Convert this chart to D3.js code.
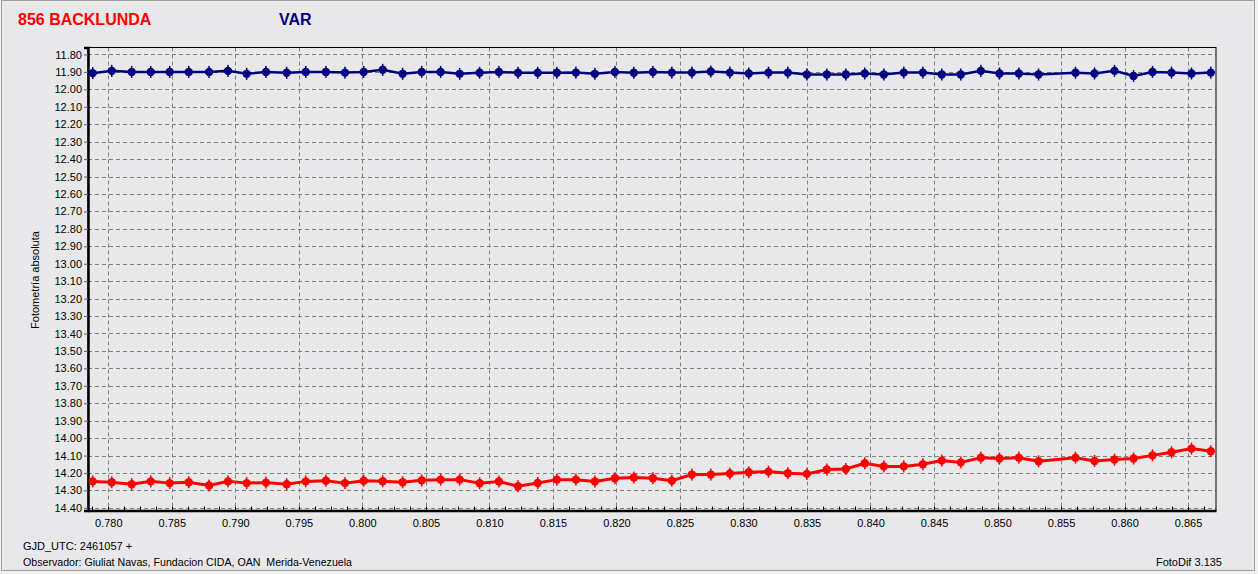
<!DOCTYPE html>
<html>
<head>
<meta charset="utf-8">
<script src="https://cdn.jsdelivr.net/npm/d3@7"></script>
<style>
  body { margin: 0; background: #f0f0f0; }
  svg text { font-family: "Liberation Sans", Arial, sans-serif; white-space: pre; }
</style>
</head>
<body>
<svg id="chart" width="1258" height="574"></svg>
<script>
// GJD_UTC fraction (2461057 +)
var gjd = [
  0.77877, 0.78027, 0.78184, 0.78334, 0.78483, 0.78633, 0.78793, 0.78942, 0.79089, 0.79241,
  0.79404, 0.79554, 0.79713, 0.79863, 0.80010, 0.80160, 0.80317, 0.80467, 0.80616, 0.80766,
  0.80923, 0.81075, 0.81225, 0.81380, 0.81531, 0.81681, 0.81830, 0.81988, 0.82137, 0.82287,
  0.82436, 0.82594, 0.82743, 0.82893, 0.83042, 0.83197, 0.83349, 0.83499, 0.83656, 0.83806,
  0.83955, 0.84105, 0.84262, 0.84412, 0.84561, 0.84711, 0.84869, 0.85016, 0.85168, 0.85323,
  0.85614, 0.85764, 0.85921, 0.86071, 0.86220, 0.86370, 0.86527, 0.86679
];

var varMag = [
  11.907, 11.894, 11.900, 11.900, 11.900, 11.900, 11.900, 11.894, 11.911, 11.900,
  11.905, 11.900, 11.900, 11.904, 11.900, 11.888, 11.911, 11.900, 11.900, 11.911,
  11.905, 11.900, 11.905, 11.905, 11.905, 11.904, 11.911, 11.900, 11.905, 11.900,
  11.904, 11.904, 11.898, 11.904, 11.909, 11.904, 11.904, 11.915, 11.915, 11.915,
  11.909, 11.915, 11.904, 11.904, 11.915, 11.915, 11.894, 11.909, 11.909, 11.915,
  11.905, 11.909, 11.894, 11.923, 11.900, 11.904, 11.909, 11.904
];

var backlundaMag = [
  14.248, 14.253, 14.264, 14.248, 14.258, 14.253, 14.272, 14.248, 14.258, 14.255,
  14.264, 14.248, 14.244, 14.258, 14.244, 14.247, 14.253, 14.242, 14.238, 14.238,
  14.259, 14.249, 14.276, 14.257, 14.238, 14.238, 14.249, 14.230, 14.226, 14.230,
  14.244, 14.209, 14.209, 14.203, 14.196, 14.192, 14.201, 14.205, 14.180, 14.177,
  14.144, 14.162, 14.162, 14.150, 14.129, 14.139, 14.112, 14.117, 14.112, 14.133,
  14.112, 14.131, 14.123, 14.117, 14.099, 14.081, 14.060, 14.075
];

var xTicks = d3.range(0, 18).map(function(i) { return +(0.780 + i * 0.005).toFixed(3); });
var xMinor = d3.range(0, 72).map(function(i) { return 0.77875 + i * 0.00125; });
var yTicks = d3.range(0, 27).map(function(i) { return +(11.80 + i * 0.10).toFixed(2); });

var plotL = 88, plotR = 1216, plotT = 47.5, plotB = 510.5;

var svg = d3.select("#chart");

svg.append("rect")
    .attr("x", 0).attr("y", 0)
    .attr("width", 1258).attr("height", 574)
    .attr("fill", "#f0f0f0");
svg.append("rect")
    .attr("x", 1.5).attr("y", 0.5)
    .attr("width", 1253).attr("height", 570)
    .attr("fill", "#e8e8ea")
    .attr("stroke", "#a0a0a0");

var x = d3.scaleLinear().domain([0.7784, 0.8672]).range([plotL, plotR]);
var y = d3.scaleLinear().domain([11.76, 14.415]).range([plotT, plotB]);

// grid
var grid = svg.append("g").attr("stroke", "#808080").attr("stroke-dasharray", "4,3").attr("stroke-width", 1);
grid.selectAll(".gx")
    .data(xTicks)
    .enter().append("line")
    .attr("x1", function(d) { return Math.round(x(d)) + 0.5; })
    .attr("x2", function(d) { return Math.round(x(d)) + 0.5; })
    .attr("y1", plotT).attr("y2", plotB);
grid.selectAll(".gy")
    .data(yTicks)
    .enter().append("line")
    .attr("y1", function(d) { return Math.round(y(d)) + 0.5; })
    .attr("y2", function(d) { return Math.round(y(d)) + 0.5; })
    .attr("x1", plotL).attr("x2", plotR);

// frame
svg.append("rect")
    .attr("x", plotL).attr("y", plotT)
    .attr("width", plotR - plotL).attr("height", plotB - plotT)
    .attr("fill", "none").attr("stroke", "#000").attr("stroke-width", 1);

// y axis
var yAxis = d3.axisLeft(y).tickValues(yTicks).tickFormat(d3.format(".2f")).tickSize(4).tickPadding(2);
var gy = svg.append("g").attr("transform", "translate(" + plotL + ",0)").call(yAxis);
gy.select(".domain").attr("stroke-width", 2.5);
gy.selectAll(".tick line").attr("stroke", "#606060");
gy.selectAll("text").attr("font-size", 11).attr("fill", "#000")
    .attr("font-family", "'Liberation Sans', Arial, sans-serif");

// x axis
var xAxis = d3.axisBottom(x).tickValues(xTicks).tickFormat(d3.format(".3f")).tickSize(0).tickPadding(9);
var gx = svg.append("g").attr("transform", "translate(0," + plotB + ")").call(xAxis);
gx.select(".domain").attr("stroke-width", 2.5);
gx.selectAll("text").attr("font-size", 11).attr("fill", "#000")
    .attr("font-family", "'Liberation Sans', Arial, sans-serif");
svg.append("g").selectAll("line")
    .data(xMinor.filter(function(d) { return d >= 0.7784 && d <= 0.8672; }))
    .enter().append("line")
    .attr("x1", function(d) { return Math.round(x(d)) + 0.5; })
    .attr("x2", function(d) { return Math.round(x(d)) + 0.5; })
    .attr("y1", plotB - 4).attr("y2", plotB)
    .attr("stroke", "#000");

// series
function drawSeries(values, color, width) {
    var pts = gjd.map(function(t, i) { return [t, values[i]]; });
    var line = d3.line()
        .x(function(d) { return x(d[0]); })
        .y(function(d) { return y(d[1]); });
    svg.append("path")
        .datum(pts)
        .attr("d", line)
        .attr("fill", "none")
        .attr("stroke", color)
        .attr("stroke-width", width);
    var m = svg.append("g").selectAll("g")
        .data(pts)
        .enter().append("g")
        .attr("transform", function(d) { return "translate(" + x(d[0]) + "," + y(d[1]) + ")"; });
    m.append("circle").attr("r", 4.2).attr("fill", color);
    m.append("rect").attr("x", -0.75).attr("y", -6).attr("width", 1.5).attr("height", 12).attr("fill", color);
}
drawSeries(varMag, "#000080", 2.5);
drawSeries(backlundaMag, "#ff0000", 3);

// titles
svg.append("text").attr("x", 18).attr("y", 25)
    .attr("font-size", 16).attr("font-weight", "bold").attr("fill", "#ff0000")
    .text("856 BACKLUNDA");
svg.append("text").attr("x", 279).attr("y", 25)
    .attr("font-size", 16).attr("font-weight", "bold").attr("fill", "#000080")
    .text("VAR");

svg.append("text")
    .attr("transform", "translate(39,280) rotate(-90)")
    .attr("text-anchor", "middle")
    .attr("font-size", 11).attr("fill", "#000")
    .text("Fotometría absoluta");

svg.append("text").attr("x", 23).attr("y", 550)
    .attr("font-size", 11).attr("fill", "#000")
    .text("GJD_UTC: 2461057 +");
svg.append("text").attr("x", 23).attr("y", 566)
    .attr("font-size", 11).attr("fill", "#000")
    .attr("textLength", 329).attr("lengthAdjust", "spacingAndGlyphs")
    .text("Observador: Giuliat Navas, Fundacion CIDA, OAN  Merida-Venezuela");
svg.append("text").attr("x", 1222).attr("y", 566)
    .attr("text-anchor", "end")
    .attr("font-size", 11).attr("fill", "#000")
    .text("FotoDif 3.135");
</script>
</body>
</html>
